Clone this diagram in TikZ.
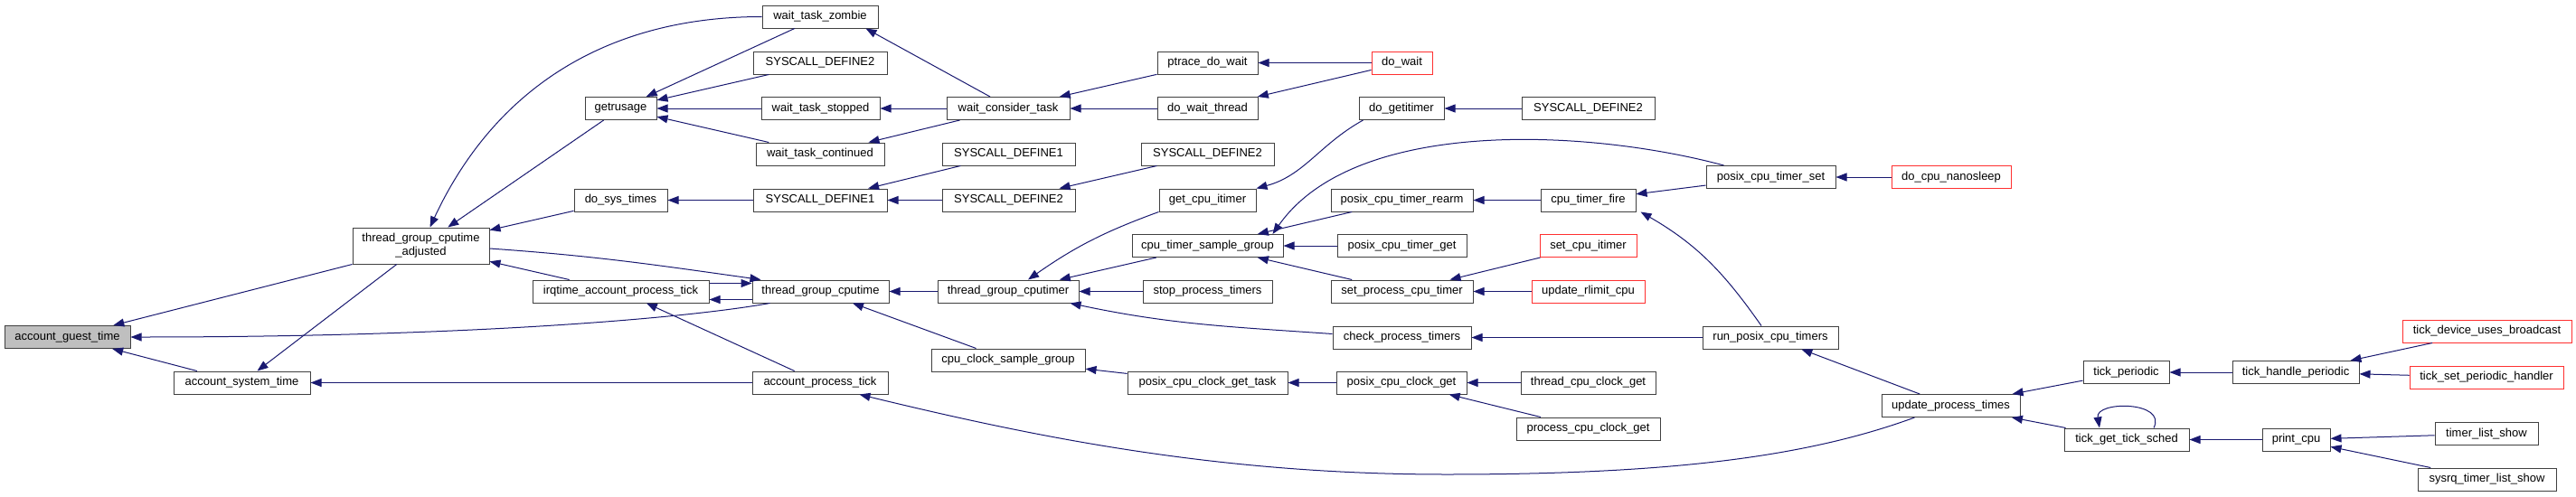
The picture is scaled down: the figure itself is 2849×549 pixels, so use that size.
\documentclass[tikz,border=0pt]{standalone}
\usepackage{fontspec}
\setmainfont{Liberation Sans}
\usepackage{xcolor}
\usetikzlibrary{arrows.meta}
\definecolor{edgeblue}{HTML}{191970}
\definecolor{boxgray}{HTML}{BFBFBF}
\definecolor{boxred}{HTML}{FF3030}
\tikzset{
  % function boxes
  fnbox/.style={rectangle, minimum width=#1, minimum height=25pt, inner sep=2pt, text centered, draw=black!75, line width=1pt, fill=white, font=\fontsize{13}{15}\selectfont},
  fnbox/.default={120pt},
  rootbox/.style={fnbox=#1, fill=boxgray},
  redbox/.style={fnbox=#1, draw=boxred},
  % caller edges
  call/.style={{Triangle[length=12pt, width=9pt]}-, draw=edgeblue, line width=1pt},
}
\begin{document}
\begin{tikzpicture}[x=1pt, y=1pt]
    \useasboundingbox (0,0) rectangle (2849,-549);

    % Root
    \node[rootbox=139pt] (ag) at (74.5,-373) {account\_guest\_time};
    \node[fnbox=151pt] (ast) at (267.5,-423.5) {account\_system\_time};
    \node[fnbox=151pt, minimum height=40pt, align=center] (tgca) at (465.5,-272) {thread\_group\_cputime\\\_adjusted};

    % Column 3
    \node[fnbox=79pt] (gru) at (686.5,-120) {getrusage};
    \node[fnbox=103pt] (dst) at (686.5,-221.5) {do\_sys\_times};
    \node[fnbox=195pt] (irq) at (686.5,-322.5) {irqtime\_account\_process\_tick};

    % Column 4
    \node[fnbox=128pt] (wtz) at (907,-18.5) {wait\_task\_zombie};
    \node[fnbox=148pt] (sd2a) at (907,-69.5) {SYSCALL\_DEFINE2};
    \node[fnbox=131pt] (wts) at (907.5,-120) {wait\_task\_stopped};
    \node[fnbox=142pt] (wtc) at (907,-170.5) {wait\_task\_continued};
    \node[fnbox=148pt] (sd1a) at (907,-221.5) {SYSCALL\_DEFINE1};
    \node[fnbox=151pt] (tgc) at (907.5,-322.5) {thread\_group\_cputime};
    \node[fnbox=150pt] (apt) at (907,-423.5) {account\_process\_tick};

    % Column 5
    \node[fnbox=136pt] (wct) at (1115,-120) {wait\_consider\_task};
    \node[fnbox=147pt] (sd1b) at (1115.5,-170.5) {SYSCALL\_DEFINE1};
    \node[fnbox=147pt] (sd2b) at (1115.5,-221.5) {SYSCALL\_DEFINE2};
    \node[fnbox=156pt] (tgcr) at (1115,-322.5) {thread\_group\_cputimer};
    \node[fnbox=170pt] (ccsg) at (1115,-398.5) {cpu\_clock\_sample\_group};

    % Column 6
    \node[fnbox=111pt] (ptdw) at (1335.5,-69.5) {ptrace\_do\_wait};
    \node[fnbox=111pt] (dwt) at (1335.5,-120) {do\_wait\_thread};
    \node[fnbox=147pt] (sd2c) at (1335.5,-170.5) {SYSCALL\_DEFINE2};
    \node[fnbox=107pt] (gci) at (1335.5,-221.5) {get\_cpu\_itimer};
    \node[fnbox=167pt] (ctsg) at (1335.5,-272) {cpu\_timer\_sample\_group};
    \node[fnbox=143pt] (spt) at (1335.5,-322.5) {stop\_process\_timers};
    \node[fnbox=177pt] (pccgt) at (1335.5,-423.5) {posix\_cpu\_clock\_get\_task};

    % Column 7
    \node[redbox=67pt] (dw) at (1550.5,-69.5) {do\_wait};
    \node[fnbox=94pt] (dgi) at (1550,-120) {do\_getitimer};
    \node[fnbox=157pt] (pctr) at (1550.5,-221.5) {posix\_cpu\_timer\_rearm};
    \node[fnbox=143pt] (pctg) at (1550.5,-272) {posix\_cpu\_timer\_get};
    \node[fnbox=157pt] (spct) at (1550.5,-322.5) {set\_process\_cpu\_timer};
    \node[fnbox=153pt] (cpt) at (1550.5,-373.5) {check\_process\_timers};
    \node[fnbox=144pt] (pccg) at (1550,-423.5) {posix\_cpu\_clock\_get};

    % Column 8
    \node[fnbox=147pt] (sd2d) at (1756.5,-120) {SYSCALL\_DEFINE2};
    \node[fnbox=105pt] (ctf) at (1756.5,-221.5) {cpu\_timer\_fire};
    \node[redbox=107pt] (sci) at (1756.5,-272) {set\_cpu\_itimer};
    \node[redbox=125pt] (urc) at (1756.5,-322.5) {update\_rlimit\_cpu};
    \node[fnbox=149pt] (tccg) at (1756.5,-423.5) {thread\_cpu\_clock\_get};
    \node[fnbox=159pt] (pcg) at (1756.5,-474.5) {process\_cpu\_clock\_get};

    % Column 9 and 10
    \node[fnbox=143pt] (pcts) at (1958.5,-196) {posix\_cpu\_timer\_set};
    \node[fnbox=150pt] (rpct) at (1958,-373.5) {run\_posix\_cpu\_timers};
    \node[redbox=132pt] (dcn) at (2158,-196) {do\_cpu\_nanosleep};
    \node[fnbox=153pt] (upt) at (2157.5,-449) {update\_process\_times};

    % Tick side
    \node[fnbox=95pt] (tp) at (2351.5,-412) {tick\_periodic};
    \node[fnbox=138pt] (tgts) at (2352,-486.5) {tick\_get\_tick\_sched};
    \node[fnbox=140pt] (thp) at (2539,-412) {tick\_handle\_periodic};
    \node[fnbox=75pt] (pc) at (2539.5,-486.5) {print\_cpu};
    \node[redbox=187pt] (tdub) at (2750.5,-366.5) {tick\_device\_uses\_broadcast};
    \node[redbox=170pt] (tsph) at (2750,-417.5) {tick\_set\_periodic\_handler};
    \node[fnbox=114pt] (tls) at (2750,-480) {timer\_list\_show};
    \node[fnbox=153pt] (stls) at (2750.5,-530.5) {sysrq\_timer\_list\_show};

    % Edges into the root
    \draw[call] (ag) -- (tgca.south west);
    \draw[call] (ag.east) .. controls (520,-373) and (760,-352) .. ([xshift=20pt]tgc.south west);
    \draw[call] (ag) -- (ast);
    \draw[call] (ast) -- (tgca);
    \draw[call] (ast) -- (apt);

    % thread_group_cputime_adjusted
    \draw[call] ([xshift=10pt]tgca.north) to[out=65, in=180] (wtz.west);
    \draw[call] (tgca) -- (gru);
    \draw[call] (tgca) -- (dst);
    \draw[call] (tgca) -- (irq);
    \draw[call] ([xshift=10pt]tgc.north west) to[out=172, in=-4] ([yshift=-3pt]tgca.east);
    \draw[call] ([yshift=9pt]tgc.west) -- ([yshift=9pt]irq.east);
    \draw[call] ([yshift=-9pt]irq.east) -- ([yshift=-9pt]tgc.west);
    \draw[call] (irq) -- (apt);

    % getrusage and do_sys_times
    \draw[call] (gru) -- (wtz);
    \draw[call] (gru) -- (sd2a);
    \draw[call] (gru) -- (wts);
    \draw[call] (gru) -- (wtc);
    \draw[call] (dst) -- (sd1a);

    % wait_consider_task
    \draw[call] ([xshift=-14pt]wtz.south east) -- ([xshift=-20pt]wct.north);
    \draw[call] (wts) -- (wct);
    \draw[call] (wtc) -- (wct);
    \draw[call] (sd1a) -- (sd1b);
    \draw[call] (sd1a) -- (sd2b);
    \draw[call] (wct) -- (ptdw);
    \draw[call] (wct) -- (dwt);
    \draw[call] (ptdw) -- (dw);
    \draw[call] (dwt) -- (dw);
    \draw[call] (sd2b) -- (sd2c);

    % thread_group_cputime
    \draw[call] (tgc) -- (tgcr);
    \draw[call] (tgc) -- (ccsg);
    \draw[call] ([xshift=22pt]tgcr.north) to[out=35, in=200] (gci.south west);
    \draw[call] (tgcr) -- (ctsg);
    \draw[call] (tgcr) -- (spt);
    \draw[call] ([xshift=-10pt]tgcr.south east) to[out=-12, in=176] ([yshift=4pt]cpt.west);
    \draw[call] (gci.north east) to[out=15, in=209] ([xshift=5pt]dgi.south west);
    \draw[call] (dgi) -- (sd2d);

    % cpu_timer_sample_group
    \draw[call] ([xshift=-12pt]ctsg.north east) to[out=55, in=165, looseness=0.8] ([xshift=20pt]pcts.north west);
    \draw[call] (ctsg) -- (pctr);
    \draw[call] (ctsg) -- (pctg);
    \draw[call] (ctsg) -- (spct);
    \draw[call] (pctr) -- (ctf);
    \draw[call] (ctf) -- (pcts);
    \draw[call] ([xshift=5pt]ctf.south east) to[out=-30, in=125] ([xshift=-10pt]rpct.north);
    \draw[call] (pcts) -- (dcn);
    \draw[call] (spct) -- (sci);
    \draw[call] (spct) -- (urc);
    \draw[call] (cpt) -- (rpct);
    \draw[call] (rpct) -- (upt);

    % account_process_tick
    \draw[call] ([xshift=-32pt]apt.south east) .. controls (1150,-485) and (1350,-525) .. (1600,-525) .. controls (1850,-525) and (2000,-505) .. ([xshift=-40pt]upt.south);

    % update_process_times
    \draw[call] (upt) -- (tp);
    \draw[call] (upt) -- (tgts);
    \draw[call] ([xshift=-30pt]tgts.north) .. controls ([xshift=-35pt, yshift=30pt]tgts.north) and ([xshift=45pt, yshift=30pt]tgts.north) .. ([xshift=30pt]tgts.north);
    \draw[call] (tp) -- (thp);
    \draw[call] (thp) -- (tdub);
    \draw[call] (thp) -- (tsph);
    \draw[call] (tgts) -- (pc);
    \draw[call] (pc) -- (tls);
    \draw[call] (pc) -- (stls);

    % clock_get
    \draw[call] (ccsg) -- (pccgt);
    \draw[call] (pccgt) -- (pccg);
    \draw[call] (pccg) -- (tccg);
    \draw[call] (pccg) -- (pcg);
\end{tikzpicture}
\end{document}
